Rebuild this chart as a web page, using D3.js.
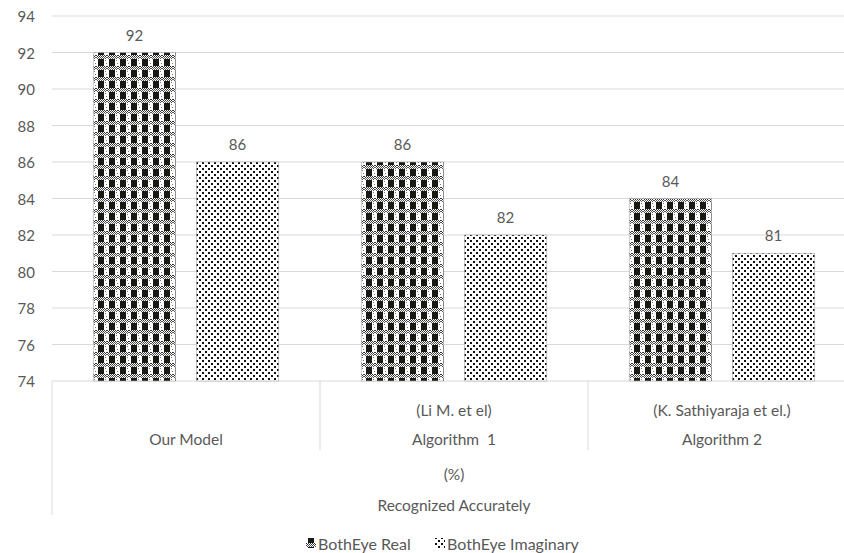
<!DOCTYPE html>
<html>
<head>
<meta charset="utf-8">
<script src="https://cdn.jsdelivr.net/npm/d3@7"></script>
<style>
  body { margin: 0; background: #fff; }
  svg { display: block; font-family: Lato, "Open Sans", sans-serif; }
</style>
</head>
<body>
<svg id="chart" width="844" height="553"></svg>
<script>
// data
const categories = ['Our Model', 'Algorithm  1', 'Algorithm 2'];
const subLabels = ['', '(Li M. et el)', '(K. Sathiyaraja et el.)'];
const series = ['BothEye Real', 'BothEye Imaginary'];
const realValues = [92, 86, 84];
const imaginaryValues = [86, 82, 81];
const yTicks = [74, 76, 78, 80, 82, 84, 86, 88, 90, 92, 94];
const groupLabels = ['(%)', 'Recognized Accurately'];

const values = [realValues, imaginaryValues];
const textColor = '#595959';
const gridColor = '#d9d9d9';

const svg = d3.select('#chart');

// patterns
const defs = svg.append('defs');
const pReal = defs.append('pattern')
    .attr('id', 'pat0')
    .attr('patternUnits', 'userSpaceOnUse')
    .attr('width', 11)
    .attr('height', 11);
pReal.append('rect').attr('width', 11).attr('height', 11).attr('fill', '#fff');
// dotted grey band between the rows of dark blocks
for (let i = 0; i < 11; i++) {
  pReal.append('rect').attr('x', i).attr('y', i % 2).attr('width', 1).attr('height', 1).attr('fill', '#333');
  pReal.append('rect').attr('x', i).attr('y', 2 + (i % 2)).attr('width', 1).attr('height', 1).attr('fill', '#555');
}
pReal.append('rect').attr('x', 2).attr('y', 4).attr('width', 6).attr('height', 7).attr('fill', '#1a1a14');
pReal.append('rect').attr('x', 9).attr('y', 5).attr('width', 1).attr('height', 1).attr('fill', '#777');
pReal.append('rect').attr('x', 10).attr('y', 8).attr('width', 1).attr('height', 1).attr('fill', '#777');

const pImag = defs.append('pattern')
    .attr('id', 'pat1')
    .attr('patternUnits', 'userSpaceOnUse')
    .attr('width', 6)
    .attr('height', 6);
pImag.append('rect').attr('width', 6).attr('height', 6).attr('fill', '#fff');
pImag.append('rect').attr('x', 0).attr('y', 0).attr('width', 2).attr('height', 2).attr('fill', '#111');
pImag.append('rect').attr('x', 3).attr('y', 3).attr('width', 2).attr('height', 2).attr('fill', '#111');

// scales
const plotLeft = 52, plotRight = 856, plotTop = 16, plotBottom = 381;
const y = d3.scaleLinear().domain([74, 94]).range([plotBottom, plotTop]);
const x0 = d3.scaleBand().domain(categories).range([plotLeft, plotRight]).padding(0);
const x1 = d3.scaleBand().domain(series).range([0, x0.bandwidth()])
    .paddingInner(0.2).paddingOuter(0.4);

// gridlines
svg.append('g').selectAll('line')
  .data(yTicks)
  .join('line')
    .attr('x1', plotLeft)
    .attr('x2', plotRight)
    .attr('y1', d => y(d))
    .attr('y2', d => y(d))
    .attr('stroke', gridColor)
    .attr('stroke-width', 1);

// y axis labels
svg.append('g').selectAll('text')
  .data(yTicks)
  .join('text')
    .attr('x', 35)
    .attr('y', d => y(d))
    .attr('text-anchor', 'end')
    .attr('dominant-baseline', 'central')
    .attr('fill', textColor)
    .style('font-size', '15px')
    .text(d => d);

// bars
const groups = svg.append('g').selectAll('g')
  .data(categories)
  .join('g')
    .attr('transform', d => `translate(${x0(d)},0)`);

groups.selectAll('rect')
  .data((d, i) => series.map((s, j) => ({ s: s, j: j, v: values[j][i] })))
  .join('rect')
    .attr('x', d => x1(d.s))
    .attr('y', d => y(d.v))
    .attr('width', x1.bandwidth())
    .attr('height', d => y(74) - y(d.v))
    .attr('fill', d => `url(#pat${d.j})`)
    .attr('stroke', '#aaa')
    .attr('stroke-width', 0.6);

groups.selectAll('text.val')
  .data((d, i) => series.map((s, j) => ({ s: s, v: values[j][i] })))
  .join('text')
    .attr('class', 'val')
    .attr('x', d => x1(d.s) + x1.bandwidth() / 2)
    .attr('y', d => y(d.v) - 18)
    .attr('text-anchor', 'middle')
    .attr('dominant-baseline', 'central')
    .attr('fill', textColor)
    .style('font-size', '15px')
    .text(d => d.v);

// multi-level category axis
const axis = svg.append('g');
axis.append('line')
    .attr('x1', plotLeft).attr('x2', plotLeft)
    .attr('y1', plotBottom).attr('y2', 515)
    .attr('stroke', gridColor);
axis.selectAll('line.div')
  .data(categories.slice(1))
  .join('line')
    .attr('class', 'div')
    .attr('x1', d => x0(d)).attr('x2', d => x0(d))
    .attr('y1', plotBottom).attr('y2', 450)
    .attr('stroke', gridColor);
axis.selectAll('text.sub')
  .data(categories)
  .join('text')
    .attr('class', 'sub')
    .attr('x', d => x0(d) + x0.bandwidth() / 2)
    .attr('y', 410)
    .attr('text-anchor', 'middle')
    .attr('dominant-baseline', 'central')
    .attr('fill', textColor)
    .style('font-size', '15.5px')
    .text((d, i) => subLabels[i]);
axis.selectAll('text.cat')
  .data(categories)
  .join('text')
    .attr('class', 'cat')
    .attr('x', d => x0(d) + x0.bandwidth() / 2)
    .attr('y', 439)
    .attr('text-anchor', 'middle')
    .attr('dominant-baseline', 'central')
    .attr('fill', textColor)
    .style('font-size', '15.5px')
    .style('white-space', 'pre')
    .text(d => d);
axis.selectAll('text.grp')
  .data(groupLabels)
  .join('text')
    .attr('class', 'grp')
    .attr('x', (plotLeft + plotRight) / 2)
    .attr('y', (d, i) => i === 0 ? 474 : 505)
    .attr('text-anchor', 'middle')
    .attr('dominant-baseline', 'central')
    .attr('fill', textColor)
    .style('font-size', '15.5px')
    .text(d => d);

// legend
const legendX = [306, 435];
const legend = svg.append('g').selectAll('g')
  .data(series)
  .join('g')
    .attr('transform', (d, i) => `translate(${legendX[i]},543)`);
legend.append('rect')
    .attr('x', 0).attr('y', -5)
    .attr('width', 10).attr('height', 10)
    .attr('fill', (d, i) => `url(#pat${i})`);
legend.append('text')
    .attr('x', 12)
    .attr('y', 0)
    .attr('dominant-baseline', 'central')
    .attr('fill', textColor)
    .style('font-size', '16px')
    .text(d => d);
</script>
</body>
</html>
